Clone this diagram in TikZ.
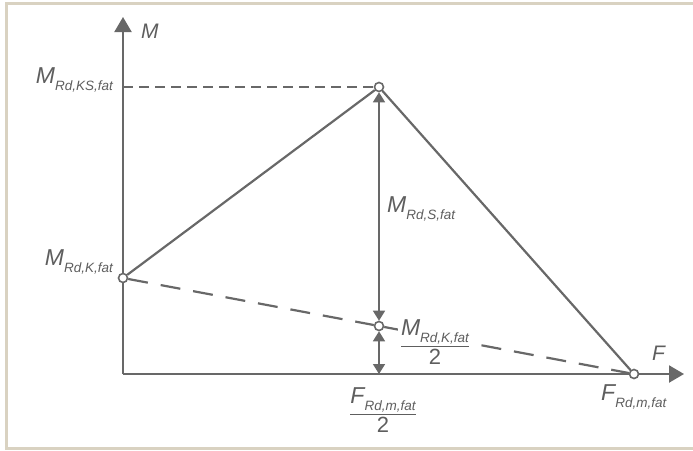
\documentclass[tikz,border=0pt]{standalone}
\usepackage{amsmath}
\usepackage{fontspec}
\setmainfont{Liberation Sans}
\usepackage{tikz}
\usetikzlibrary{arrows.meta, positioning}

\definecolor{linegray}{HTML}{686868}
\definecolor{textgray}{HTML}{5E5E5E}
\definecolor{framebeige}{HTML}{D9D2C1}
\newcommand{\sublab}[2]{{\fontsize{23}{23}\selectfont #1}\raisebox{-7pt}{\fontsize{13.5}{13.5}\selectfont #2}}
\newcommand{\halflab}[1]{$\genfrac{}{}{0.8pt}{0}{\text{#1}}{\text{\upshape\fontsize{22}{22}\selectfont 2}}$}

\begin{document}
\begin{tikzpicture}[x=1pt, y=-1pt]
        \tikzstyle{frame} = [draw=framebeige, line width=3pt]
        \tikzstyle{axis} = [draw=linegray, line width=2.2pt, -{Triangle[length=15pt, width=17pt]}]
        \tikzstyle{curve} = [draw=linegray, line width=2.2pt]
        \tikzstyle{guide} = [draw=linegray, line width=2.2pt, dash pattern=on 10pt off 6pt]
        \tikzstyle{longdash} = [draw=linegray, line width=2.2pt, dash pattern=on 20pt off 13pt]
        \tikzstyle{dimarrow} = [draw=linegray, line width=1.6pt, {Triangle[length=10pt, width=12pt]}-{Triangle[length=10pt, width=12pt]}]
        \tikzstyle{point} = [circle, draw=linegray, fill=white, line width=1.6pt, inner sep=0pt, minimum size=9pt]
        \tikzstyle{lbl} = [text=textgray, font=\itshape, inner sep=0pt]

        \useasboundingbox (0,0) rectangle (693,450);
        \draw [frame] (693,3) -- (6,3) -- (6,448) -- (693,448);

        \coordinate (O) at (123,374);
        \coordinate (Mtip) at (123,17);
        \coordinate (Ftip) at (684,374);
        \coordinate (KS) at (123,87);
        \coordinate (foot) at (379,374);

        \draw [axis] (O) -- (Mtip);
        \draw [axis] (O) -- (Ftip);

        \node (MK) [point] at (123,278) {};
        \node (peak) [point] at (379,87) {};
        \node (mid) [point] at (379,326) {};
        \node (FM) [point] at (634,374) {};

        \draw [curve] (MK) -- (peak) -- (FM);
        \draw [guide] (KS) -- (peak);
        \draw [longdash] (MK) -- (mid);
        \draw [longdash] (mid) -- (FM);
        \draw [dimarrow] (mid) -- (peak);
        \draw [dimarrow] (mid) -- (foot);

        \node (Mname) [lbl, anchor=base west] at (141,38) {\fontsize{21}{21}\selectfont M};
        \node (Fname) [lbl, anchor=base west] at (652,360) {\fontsize{21}{21}\selectfont F};
        \node (MKSlab) [lbl, anchor=base east] at (113,83) {\sublab{M}{Rd,KS,fat}};
        \node (MKlab) [lbl, anchor=base east] at (113,265) {\sublab{M}{Rd,K,fat}};
        \node (MSlab) [lbl, anchor=base west] at (387,212) {\sublab{M}{Rd,S,fat}};
        \node (FMlab) [lbl, anchor=base west] at (601,400) {\sublab{F}{Rd,m,fat}};
        \node (halfMK) [lbl, fill=white, inner sep=2pt] at (435,342) {\halflab{\sublab{M}{Rd,K,fat}}};
        \node (halfFM) [lbl] at (383,410) {\halflab{\sublab{F}{Rd,m,fat}}};
\end{tikzpicture}
\end{document}
